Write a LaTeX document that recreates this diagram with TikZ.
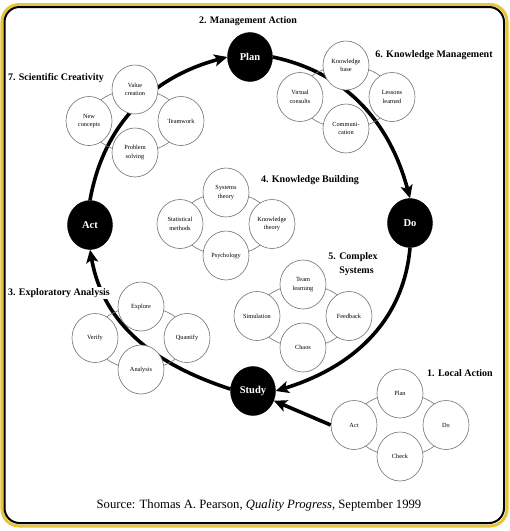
\documentclass[tikz,border=0pt]{standalone}
\usepackage{fontspec}
\setmainfont{Liberation Serif}
\usetikzlibrary{arrows.meta,shapes.geometric}
\definecolor{frameyellow}{RGB}{232,196,56}
\newcommand{\fourcirc}[7]{%
  \begin{scope}[shift={(#2,#3)}]
    \draw[ring] (0,0) ellipse [x radius=46pt, y radius=31.5pt];
    \node[small] (#1t) at (0,-31.5) {#4};
    \node[small] (#1l) at (-46,0) {#5};
    \node[small] (#1r) at (46,0) {#6};
    \node[small] (#1b) at (0,31.5) {#7};
  \end{scope}}
\begin{document}
\begin{tikzpicture}[x=1pt,y=-1pt,
  big/.style={ellipse, fill=black, draw=black, minimum width=45pt, minimum height=49pt,
    inner sep=0pt, text=white, font=\fontsize{10.5}{12}\selectfont\bfseries},
  small/.style={ellipse, draw=black!55, line width=0.6pt, fill=white, minimum width=46pt,
    minimum height=49pt, inner sep=0pt, align=center, font=\fontsize{6.3}{8.5}\selectfont},
  ring/.style={draw=black!55, line width=0.6pt},
  lab/.style={font=\fontsize{10}{14.5}\selectfont\bfseries, fill=white, inner sep=1pt},
  cyc/.style={line width=3.6pt, -{Stealth[length=13pt,width=12pt,inset=3pt]}},
]
\useasboundingbox (0,0) rectangle (510,531);
\fill[white] (0,0) rectangle (510,531);
% frame
\draw[frameyellow, line width=3pt, rounded corners=17pt] (2,4.5) rectangle (507,526);
\draw[black, line width=2pt, rounded corners=15pt] (4.5,7) rectangle (504,523);

% main cycle nodes
\node[big] (plan) at (250,57) {Plan};
\node[big] (do) at (410,223) {Do};
\node[big] (study) at (253,391) {Study};
\node[big] (act) at (90,225) {Act};

% cycle arcs
\draw[cyc] (act.north) to[out=80,in=195] (plan.west);
\draw[cyc] (plan.east) to[out=-12,in=105] (do.north);
\draw[cyc] (do.south) to[out=265,in=17] (study.east);
\draw[cyc] (study.175) to[out=162,in=280] (act.south);

% clusters
\fourcirc{c7}{135}{121}{Value\\creation}{New\\concepts}{Teamwork}{Problem\\solving}
\fourcirc{c6}{346}{97}{Knowledge\\base}{Virtual\\consults}{Lessons\\learned}{Communi-\\cation}
\fourcirc{c4}{226}{224}{Systems\\theory}{Statistical\\methods}{Knowledge\\theory}{Psychology}
\fourcirc{c5}{303}{316}{Team\\learning}{Simulation}{Feedback}{Chaos}
\fourcirc{c3}{141}{338}{Explore}{Verify}{Quantify}{Analysis}
\fourcirc{c1}{400}{425}{Plan}{Act}{Do}{Check}

% local action arrow
\draw[cyc] (c1l.west) -- (study.-25);

% labels
\node[lab] (l2) at (248,21) {2. Management Action};
\node[lab] (l6) at (434,55) {6. Knowledge Management};
\node[lab] (l7) at (56,78) {7. Scientific Creativity};
\node[lab] (l4) at (310,180) {4. Knowledge Building};
\node[lab, align=left] (l5) at (353,264) {5. Complex\\\phantom{5. }Systems};
\node[lab] (l3) at (59,293) {3. Exploratory Analysis};
\node[lab] (l1) at (460,373) {1. Local Action};
\node[font=\fontsize{12.7}{15}\selectfont] (src) at (259,505)
  {Source: Thomas A. Pearson, \textit{Quality Progress}, September 1999};
\end{tikzpicture}
\end{document}
